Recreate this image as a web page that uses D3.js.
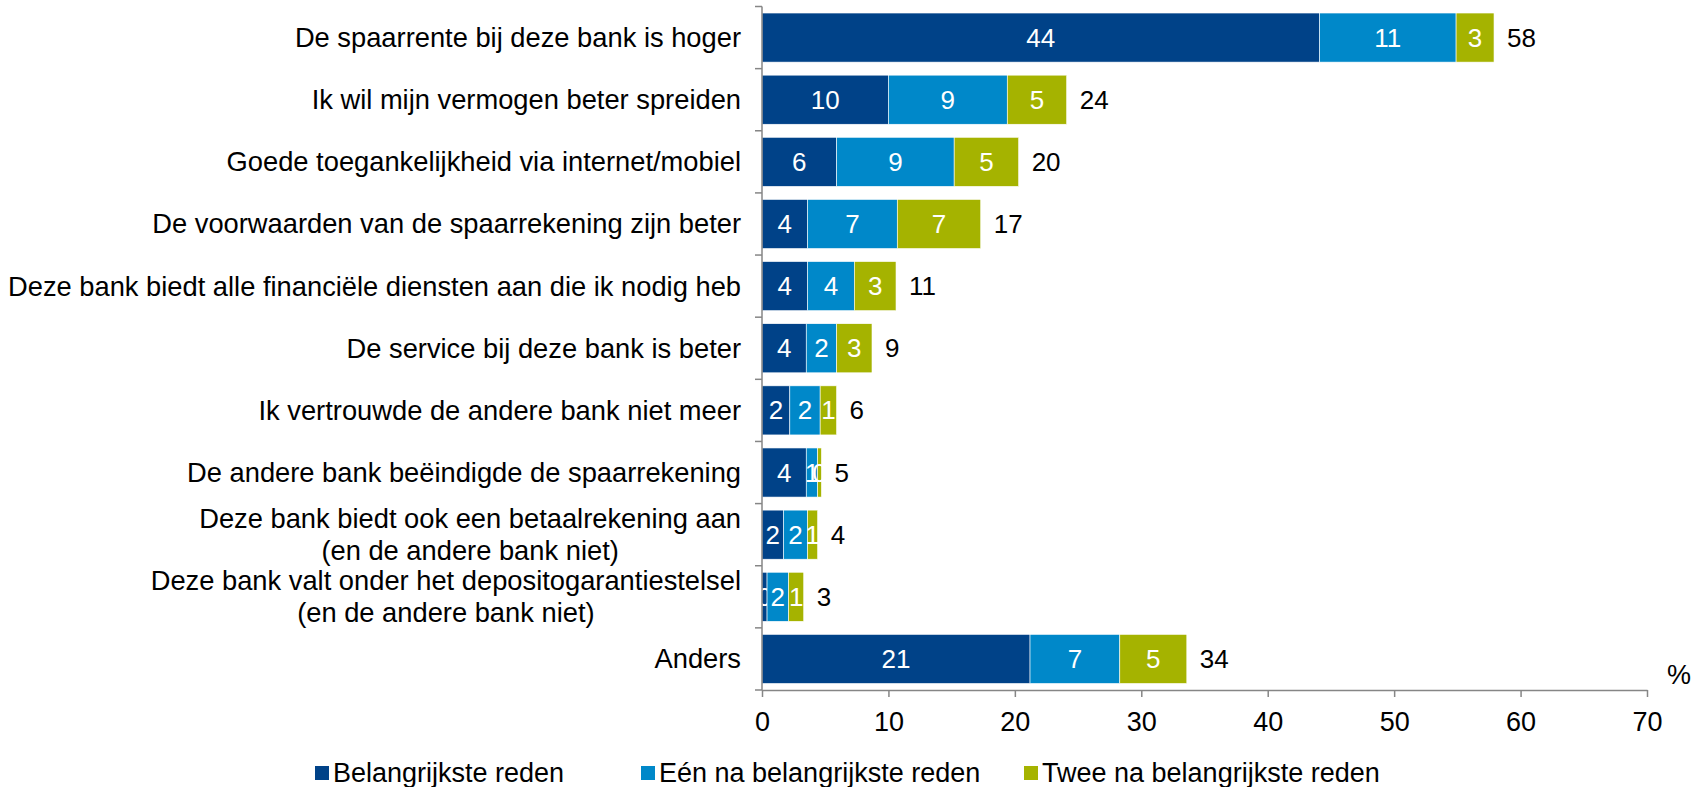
<!DOCTYPE html>
<html>
<head>
<meta charset="utf-8">
<script src="https://cdn.jsdelivr.net/npm/d3@7"></script>
<style>
  body { margin: 0; background: #fff; }
  svg { display: block; font-family: "Liberation Sans", Arial, sans-serif; }
</style>
</head>
<body>
<div id="chart"></div>
<script>
// categorieen (boven naar beneden), "\n" = nieuwe regel
var categories = [
    "De spaarrente bij deze bank is hoger",
    "Ik wil mijn vermogen beter spreiden",
    "Goede toegankelijkheid via internet/mobiel",
    "De voorwaarden van de spaarrekening zijn beter",
    "Deze bank biedt alle financiële diensten aan die ik nodig heb",
    "De service bij deze bank is beter",
    "Ik vertrouwde de andere bank niet meer",
    "De andere bank beëindigde de spaarrekening",
    "Deze bank biedt ook een betaalrekening aan\n(en de andere bank niet)",
    "Deze bank valt onder het depositogarantiestelsel\n(en de andere bank niet)",
    "Anders"
];
var seriesNames = ["Belangrijkste reden", "Eén na belangrijkste reden", "Twee na belangrijkste reden"];
var belangrijkste = [44.1, 10.0, 5.9, 3.6, 3.6, 3.5, 2.2, 3.5, 1.7, 0.4, 21.2];
var eenNa        = [10.8, 9.4, 9.3, 7.1, 3.7, 2.4, 2.4, 0.9, 1.9, 1.7, 7.1];
var tweeNa       = [3.0, 4.7, 5.1, 6.6, 3.3, 2.8, 1.3, 0.3, 0.8, 1.2, 5.3];
var xTicks = [0, 10, 20, 30, 40, 50, 60, 70];
var colors = ["#004288", "#0088c9", "#a5b300"];

var W = 1701, H = 787;
var svg = d3.select("#chart").append("svg")
    .attr("width", W)
    .attr("height", H);

var rows = categories.map(function (c, i) {
    return { cat: c, s0: belangrijkste[i], s1: eenNa[i], s2: tweeNa[i] };
});
var keys = ["s0", "s1", "s2"];
var stacked = d3.stack().keys(keys)(rows);

var x = d3.scaleLinear().domain([0, 70]).range([762, 1647]);
var y = d3.scaleBand().domain(categories).range([6.5, 690])
    .paddingInner(0.21).paddingOuter(0.105);
var fmt = d3.format(".0f");

// balken
var layers = svg.selectAll("g.layer")
    .data(stacked)
    .enter()
    .append("g")
    .attr("class", "layer")
    .attr("fill", function (d, i) { return colors[i]; });

layers.selectAll("rect")
    .data(function (d) { return d; })
    .enter()
    .append("rect")
    .attr("x", function (d) { return x(d[0]); })
    .attr("y", function (d) { return y(d.data.cat); })
    .attr("width", function (d) { return x(d[1]) - x(d[0]); })
    .attr("height", y.bandwidth())
    .attr("stroke", "#ffffff")
    .attr("stroke-width", 0.6);

// waarden in de balken
layers.selectAll("text")
    .data(function (d) { return d; })
    .enter()
    .append("text")
    .text(function (d) { return fmt(d[1] - d[0]); })
    .attr("x", function (d) { return (x(d[0]) + x(d[1])) / 2; })
    .attr("y", function (d) { return y(d.data.cat) + y.bandwidth() / 2; })
    .attr("text-anchor", "middle")
    .attr("dominant-baseline", "central")
    .attr("font-size", 26)
    .attr("fill", "#ffffff");

// totalen
svg.selectAll("text.total")
    .data(rows)
    .enter()
    .append("text")
    .attr("class", "total")
    .text(function (d) { return fmt(d.s0 + d.s1 + d.s2); })
    .attr("x", function (d) { return x(d.s0 + d.s1 + d.s2) + 13; })
    .attr("y", function (d) { return y(d.cat) + y.bandwidth() / 2; })
    .attr("dominant-baseline", "central")
    .attr("font-size", 26)
    .attr("fill", "#000000");

// x-as
var xAxis = svg.append("g")
    .attr("transform", "translate(0,690)")
    .call(d3.axisBottom(x).tickValues(xTicks).tickSize(7).tickPadding(15).tickSizeOuter(0));
xAxis.select(".domain").attr("stroke", "#868686").attr("stroke-width", 1.5);
xAxis.selectAll(".tick line").attr("stroke", "#868686").attr("stroke-width", 1.5);
xAxis.selectAll(".tick text")
    .attr("font-size", 27)
    .attr("font-family", "Liberation Sans, Arial, sans-serif")
    .attr("fill", "#000");

// y-as met streepjes tussen de categorieen
var step = y.step();
var yTop = y.range()[0];
svg.append("line")
    .attr("x1", x(0)).attr("x2", x(0))
    .attr("y1", yTop).attr("y2", 690)
    .attr("stroke", "#868686").attr("stroke-width", 1.5);
svg.selectAll("line.ytick")
    .data(d3.range(categories.length + 1))
    .enter()
    .append("line")
    .attr("class", "ytick")
    .attr("x1", x(0) - 7).attr("x2", x(0))
    .attr("y1", function (i) { return yTop + i * step; })
    .attr("y2", function (i) { return yTop + i * step; })
    .attr("stroke", "#868686").attr("stroke-width", 1.5);

// categorie labels: regels gecentreerd, blok rechts uitgelijnd
var labelRight = 741;
var labels = svg.selectAll("text.cat")
    .data(categories)
    .enter()
    .append("text")
    .attr("class", "cat")
    .attr("text-anchor", "middle")
    .attr("font-size", 27.3)
    .attr("fill", "#000");
labels.each(function (c) {
    var lines = c.split("\n");
    var t = d3.select(this);
    var cy = y(c) + y.bandwidth() / 2;
    var lh = 32;
    var spans = lines.map(function (l, j) {
        return t.append("tspan")
            .attr("y", cy + (j - (lines.length - 1) / 2) * lh)
            .attr("dominant-baseline", "central")
            .text(l);
    });
    var maxW = d3.max(spans, function (s) { return s.node().getComputedTextLength(); });
    spans.forEach(function (s) { s.attr("x", labelRight - maxW / 2); });
});

// eenheid
svg.append("text")
    .text("%")
    .attr("x", 1679)
    .attr("y", 675)
    .attr("text-anchor", "middle")
    .attr("dominant-baseline", "central")
    .attr("font-size", 27);

// legenda
var legendX = [315, 641, 1024];
var leg = svg.selectAll("g.legend")
    .data(seriesNames)
    .enter()
    .append("g")
    .attr("class", "legend")
    .attr("transform", function (d, i) { return "translate(" + legendX[i] + ",773)"; });
leg.append("rect")
    .attr("x", 0).attr("y", -7)
    .attr("width", 14).attr("height", 14)
    .attr("fill", function (d, i) { return colors[i]; });
leg.append("text")
    .text(function (d) { return d; })
    .attr("x", 18)
    .attr("dominant-baseline", "central")
    .attr("font-size", 27);
</script>
</body>
</html>
